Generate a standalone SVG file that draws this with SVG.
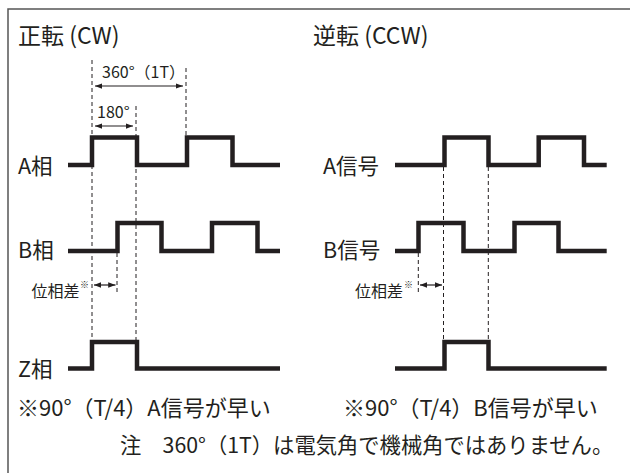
<svg xmlns="http://www.w3.org/2000/svg" width="630" height="473" viewBox="0 0 630 473">
<defs>
<marker id="ah" viewBox="0 0 8 6" refX="8" refY="3" markerWidth="7.5" markerHeight="5.5" markerUnits="userSpaceOnUse" orient="auto-start-reverse"><path d="M0,0 L8,3 L0,6 z" fill="#231f20"/></marker>
</defs>
<style>
text{font-family:"Noto Sans CJK JP","Noto Sans",sans-serif;fill:#231f20}
.title{font-size:23px}
.lbl{font-size:21.5px}
.note{font-size:22px}
.foot{font-size:21.3px}
.dim{font-size:16px}
.ph{font-size:16px}
.sup{font-size:9px}
.wave{fill:none;stroke:#231f20;stroke-width:4.5;stroke-linejoin:miter;stroke-linecap:butt}
.dash{stroke:#231f20;stroke-width:1;stroke-dasharray:4 3;fill:none}
.arr{stroke:#231f20;stroke-width:1.2;fill:none;marker-start:url(#ah);marker-end:url(#ah)}
.frame{stroke:#555;stroke-width:1.5;fill:none}
</style>
<rect width="630" height="473" fill="#fff"/>
<path class="frame" d="M8,473 V9 H630"/>

<g id="connectors">
  <line class="dash" x1="92" y1="60" x2="92" y2="340"/>
  <line class="dash" x1="136" y1="106" x2="136" y2="340"/>
  <line class="dash" x1="186" y1="68" x2="186" y2="135"/>
  <line class="dash" x1="117" y1="253" x2="117" y2="292"/>
  <line class="dash" x1="443.5" y1="167" x2="443.5" y2="340"/>
  <line class="dash" x1="488.3" y1="167" x2="488.3" y2="340"/>
  <line class="dash" x1="418.3" y1="253" x2="418.3" y2="292"/>
  <line class="arr" x1="95" y1="86" x2="183" y2="86"/>
  <line class="arr" x1="95" y1="126" x2="133" y2="126"/>
  <line class="arr" x1="94" y1="285" x2="115.5" y2="285"/>
  <line class="arr" x1="420" y1="285" x2="442" y2="285"/>
</g>

<g id="cw">
  <text class="title" x="18" y="43.5">正転 (CW)</text>
  <text class="dim" x="102" y="78">360°（1T）</text>
  <text class="dim" x="97" y="118">180°</text>
  <g id="cw-a">
    <text class="lbl" x="18" y="173.5">A相</text>
    <path class="wave" d="M68,165 H92 V137.5 H137 V165 H187 V137.5 H232.5 V165 H280"/>
  </g>
  <g id="cw-b">
    <text class="lbl" x="18" y="258">B相</text>
    <path class="wave" d="M68,251 H117.5 V223 H161.5 V251 H212 V223 H257.5 V251 H280"/>
  </g>
  <g id="cw-phase">
    <text class="ph" x="31.5" y="297">位相差</text>
    <text class="sup" x="80" y="288">※</text>
  </g>
  <g id="cw-z">
    <text class="lbl" x="18" y="376.5">Z相</text>
    <path class="wave" d="M68,368.5 H92 V342 H137 V368.5 H280"/>
  </g>
  <text class="note" x="17" y="416">※90°（T/4）A信号が早い</text>
</g>

<g id="ccw">
  <text class="title" x="313" y="43.5">逆転 (CCW)</text>
  <g id="ccw-a">
    <text class="lbl" x="323" y="173.5">A信号</text>
    <path class="wave" d="M395,165 H444.5 V137.5 H488.5 V165 H538.7 V137.5 H584 V165 H606.7"/>
  </g>
  <g id="ccw-b">
    <text class="lbl" x="323" y="258">B信号</text>
    <path class="wave" d="M395,251 H418.5 V223 H463.5 V251 H514.5 V223 H558.5 V251 H606.7"/>
  </g>
  <g id="ccw-phase">
    <text class="ph" x="355" y="297">位相差</text>
    <text class="sup" x="404" y="288">※</text>
  </g>
  <g id="ccw-z">
    <path class="wave" d="M395,368.5 H444.5 V342 H488.5 V368.5 H606.7"/>
  </g>
  <text class="note" x="343" y="416">※90°（T/4）B信号が早い</text>
</g>

<g id="footnote">
  <text class="foot" x="120" y="453">注　360°（1T）は電気角で機械角ではありません。</text>
</g>
</svg>
